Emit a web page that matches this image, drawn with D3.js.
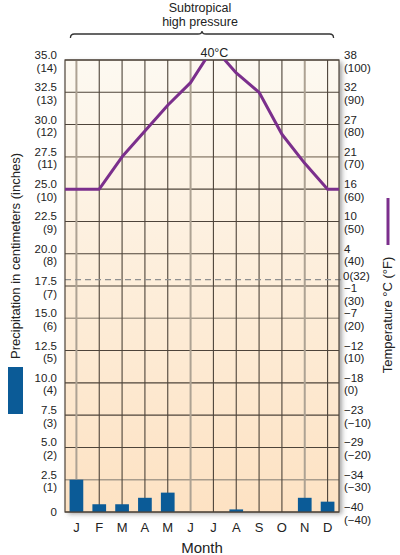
<!DOCTYPE html>
<html><head><meta charset="utf-8">
<script src="https://cdn.jsdelivr.net/npm/d3@7"></script>
<style>
html,body{margin:0;padding:0;background:#fff;}
svg{display:block;font-family:"Liberation Sans",Arial,Helvetica,sans-serif;}
</style>
</head><body>
<svg id="c" width="400" height="555"></svg>
<script>
// ---- data ----
const monthKeys = ["Jan","Feb","Mar","Apr","May","Jun","Jul","Aug","Sep","Oct","Nov","Dec"];
const monthLabels = ["J","F","M","A","M","J","J","A","S","O","N","D"];
const precipCm = [2.5, 0.6, 0.6, 1.1, 1.5, 0, 0, 0.2, 0, 0, 1.1, 0.8];
const tempF = [60, 60, 70, 78, 86, 93, 104, 96, 90, 77, 68, 60];
const peakLabel = "40°C";
const precipTicksCm = [0,2.5,5,7.5,10,12.5,15,17.5,20,22.5,25,27.5,30,32.5,35];
const precipCmLabels = ["0","2.5","5.0","7.5","10.0","12.5","15.0","17.5","20.0","22.5","25.0","27.5","30.0","32.5","35.0"];
const precipInLabels = ["","(1)","(2)","(3)","(4)","(5)","(6)","(7)","(8)","(9)","(10)","(11)","(12)","(13)","(14)"];
const tempTicksF = [-40,-30,-20,-10,0,10,20,30,40,50,60,70,80,90,100];
const tempCLabels = ["−40","−34","−29","−23","−18","−12","−7","−1","4","10","16","21","27","32","38"];
const tempFLabels = ["(−40)","(−30)","(−20)","(−10)","(0)","(10)","(20)","(30)","(40)","(50)","(60)","(70)","(80)","(90)","(100)"];
const freezeF = 32;
const freezeLabel = "0(32)";
const lightGridMonths = [0,5,10];
const lightGridTicks = [1,6,11];

// ---- layout ----
const svg = d3.select("#c");
const L = 65, R = 339, T = 60, B = 512;
const x = d3.scaleBand().domain(monthKeys).range([L,R]).paddingInner(0.4).paddingOuter(0.2);
const cx = i => x(monthKeys[i]) + x.bandwidth()/2;
const y = d3.scaleLinear().domain([0,35]).range([B,T]);
const yT = d3.scaleLinear().domain([-40,100]).range([B,T]);

const defs = svg.append("defs");
const grad = defs.append("linearGradient").attr("id","bg").attr("x1",0).attr("y1",0).attr("x2",0).attr("y2",1);
grad.append("stop").attr("offset","0%").attr("stop-color","#fdf9f1");
grad.append("stop").attr("offset","100%").attr("stop-color","#fde2c3");
const f = defs.append("filter").attr("id","sh").attr("x","-10%").attr("y","-10%").attr("width","125%").attr("height","125%");
f.append("feDropShadow").attr("dx",3).attr("dy",2).attr("stdDeviation",2.5).attr("flood-color","#555").attr("flood-opacity",0.55);
defs.append("clipPath").attr("id","clip").append("rect").attr("x",L).attr("y",T).attr("width",R-L).attr("height",B-T);

// background
svg.append("rect").attr("x",L).attr("y",T).attr("width",R-L).attr("height",B-T)
  .attr("fill","url(#bg)").attr("filter","url(#sh)");

// grid
const g = svg.append("g");
g.selectAll("line.h").data(precipTicksCm).join("line")
  .attr("x1",L).attr("x2",R).attr("y1",d=>y(d)).attr("y2",d=>y(d))
  .attr("stroke",(d,i)=>lightGridTicks.includes(i)?"#a89c8c":"#4e443a")
  .attr("stroke-width",(d,i)=>lightGridTicks.includes(i)?1.6:1.1);
g.selectAll("line.v").data(monthKeys).join("line")
  .attr("x1",(d,i)=>cx(i)).attr("x2",(d,i)=>cx(i)).attr("y1",T).attr("y2",B)
  .attr("stroke",(d,i)=>lightGridMonths.includes(i)?"#ada293":"#4e443a")
  .attr("stroke-width",(d,i)=>lightGridMonths.includes(i)?2:1.1);

// freezing dashed line
svg.append("line").attr("x1",L).attr("x2",R+3).attr("y1",yT(freezeF)).attr("y2",yT(freezeF))
  .attr("stroke","#8f8f8f").attr("stroke-width",1.2).attr("stroke-dasharray","6,4");

// bars
svg.selectAll("rect.bar").data(precipCm).join("rect").attr("class","bar")
  .attr("x",(d,i)=>x(monthKeys[i])).attr("width",x.bandwidth())
  .attr("y",d=>y(d)).attr("height",d=>y(0)-y(d)).attr("fill","#0b5b97");

// border
svg.append("rect").attr("x",L).attr("y",T).attr("width",R-L).attr("height",B-T)
  .attr("fill","none").attr("stroke","#4e443a").attr("stroke-width",1.2);

// temperature line
const pts = [[L, yT(tempF[0])]].concat(tempF.map((v,i)=>[cx(i), yT(v)])).concat([[R, yT(tempF[tempF.length-1])]]);
svg.append("path").attr("clip-path","url(#clip)").attr("d", d3.line()(pts))
  .attr("fill","none").attr("stroke","#7b2f8c").attr("stroke-width",3).attr("stroke-linejoin","round");

// peak label
const peakIdx = tempF.indexOf(d3.max(tempF));
svg.append("text").attr("x",cx(peakIdx)+1).attr("y",T-3).attr("text-anchor","middle")
  .attr("font-size",12.5).attr("fill","#222").text(peakLabel);

// left tick labels
const lt = svg.append("g").attr("font-size",11.5).attr("fill","#222").attr("text-anchor","end");
precipTicksCm.forEach((t,i)=>{
  const tx = lt.append("text").attr("x",57);
  if (precipInLabels[i] === "") {
    tx.attr("y", y(t)+4).text(precipCmLabels[i]);
  } else {
    tx.append("tspan").attr("x",57).attr("y",y(t)-1).text(precipCmLabels[i]);
    tx.append("tspan").attr("x",57).attr("y",y(t)+11.5).text(precipInLabels[i]);
  }
});

// right tick labels
const rt = svg.append("g").attr("font-size",11.5).attr("fill","#222").attr("text-anchor","start");
tempTicksF.forEach((t,i)=>{
  const off = (t === 30) ? 7 : 0;
  const tx = rt.append("text");
  tx.append("tspan").attr("x",344).attr("y",yT(t)-1+off).text(tempCLabels[i]);
  tx.append("tspan").attr("x",344).attr("y",yT(t)+11.5+off).text(tempFLabels[i]);
});
rt.append("text").attr("x",343).attr("y",yT(freezeF)+0.5).text(freezeLabel);

// month labels
svg.append("g").selectAll("text").data(monthLabels).join("text")
  .attr("x",(d,i)=>cx(i)).attr("y",532).attr("text-anchor","middle")
  .attr("font-size",13).attr("fill","#222").text(d=>d);
svg.append("text").attr("x",(L+R)/2).attr("y",553).attr("text-anchor","middle")
  .attr("font-size",15).attr("fill","#222").text("Month");

// top annotation
svg.append("text").attr("x",200).attr("y",12).attr("text-anchor","middle").attr("font-size",12.5).attr("fill","#222").text("Subtropical");
svg.append("text").attr("x",200).attr("y",26).attr("text-anchor","middle").attr("font-size",12.5).attr("fill","#222").text("high pressure");
const bx0 = cx(0)-6, bx1 = cx(11)+6, by = 34, bm = 202;
svg.append("path")
  .attr("d",`M${bx0},${by+4} Q${bx0},${by} ${bx0+4},${by} L${bm-4},${by} Q${bm},${by} ${bm},${by-3} Q${bm},${by} ${bm+4},${by} L${bx1-4},${by} Q${bx1},${by} ${bx1},${by+4}`)
  .attr("fill","none").attr("stroke","#333").attr("stroke-width",1.3);

// left axis title + legend swatch
svg.append("text").attr("transform","translate(20,256) rotate(-90)").attr("text-anchor","middle")
  .attr("font-size",13).attr("fill","#222").text("Precipitation in centimeters (inches)");
svg.append("rect").attr("x",8).attr("y",367).attr("width",15).attr("height",47).attr("fill","#0b5b97");

// right axis title + legend line
svg.append("text").attr("transform","translate(392,315) rotate(-90)").attr("text-anchor","middle")
  .attr("font-size",13).attr("fill","#222").text("Temperature °C (°F)");
svg.append("line").attr("x1",388).attr("x2",388).attr("y1",198).attr("y2",245)
  .attr("stroke","#7b2f8c").attr("stroke-width",3);
</script>
</body></html>
